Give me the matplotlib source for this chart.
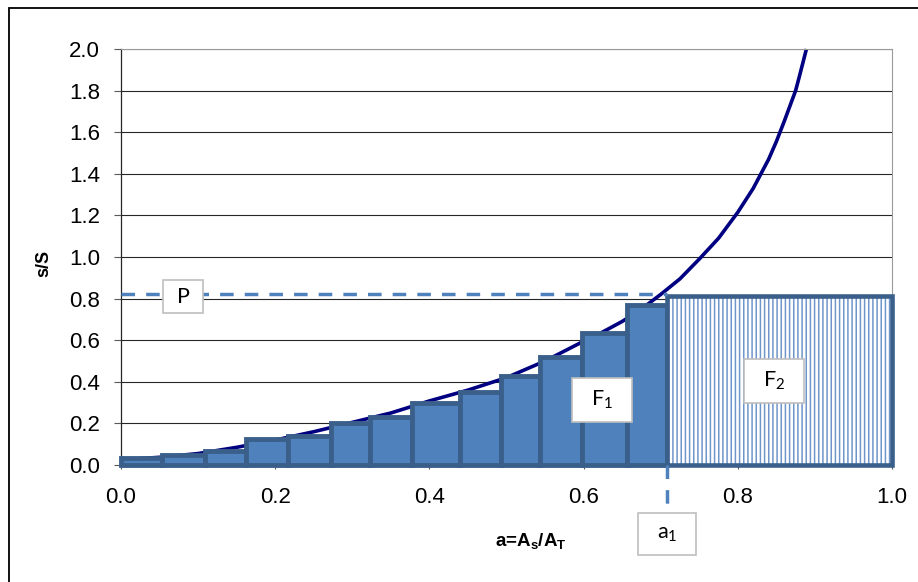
import matplotlib
matplotlib.use("Agg")
import matplotlib.pyplot as plt
from matplotlib.patches import Rectangle
import numpy as np

# curve s/S over a = As/AT
curve_a = [0.0, 0.05, 0.10, 0.15, 0.20, 0.25, 0.30, 0.35, 0.40, 0.45, 0.50,
           0.55, 0.60, 0.625, 0.65, 0.675, 0.70, 0.725, 0.75, 0.775, 0.80,
           0.82, 0.84, 0.85, 0.86, 0.865, 0.875, 0.88, 0.889]
curve_s = [0.025, 0.037, 0.055, 0.085, 0.12, 0.16, 0.205, 0.25, 0.308,
           0.36, 0.42, 0.50, 0.595, 0.64, 0.69, 0.75, 0.82, 0.895, 0.99,
           1.09, 1.215, 1.33, 1.47, 1.555, 1.65, 1.70, 1.80, 1.87, 2.0]

# staircase of bars below the curve (F1)
bar_edges = [0.0, 0.0537, 0.1088, 0.1626, 0.2169, 0.2720, 0.3225, 0.3776,
             0.4400, 0.4928, 0.5431, 0.5983, 0.6559, 0.7087]
bar_heights = [0.035, 0.05, 0.065, 0.124, 0.14, 0.20, 0.233, 0.30, 0.35,
               0.43, 0.52, 0.635, 0.77]

a1 = 0.7087       # where P meets the curve
p_level = 0.822   # dashed level P
f2_height = 0.811  # hatched block F2 from a1 to 1

x_ticks = [0.0, 0.2, 0.4, 0.6, 0.8, 1.0]
y_ticks = [0.0, 0.2, 0.4, 0.6, 0.8, 1.0, 1.2, 1.4, 1.6, 1.8, 2.0]

plt.rcParams['font.family'] = ['Liberation Sans', 'DejaVu Sans']
plt.rcParams['hatch.linewidth'] = 1.1

fill_blue = '#4F81BD'
edge_blue = '#3A5F8B'

fig = plt.figure(figsize=(9.18, 5.82), dpi=100)
ax = fig.add_axes([121/918, 1-465/582, 771/918, 416/582])

# grid
for y in y_ticks[1:]:
    ax.axhline(y, color='#262626', lw=0.8, zorder=1)

# curve (behind the bars)
ax.plot(curve_a, curve_s, color='#000080', lw=2.6, zorder=2, clip_on=False,
        solid_capstyle='butt', solid_joinstyle='round')

# bars F1
lefts = bar_edges[:-1]
widths = np.diff(bar_edges)
ax.bar(lefts, bar_heights, width=widths, align='edge', color=fill_blue,
       edgecolor=edge_blue, linewidth=3.5, zorder=3, clip_on=False)

# hatched block F2: hatch layer, then the frame
ax.bar(a1, f2_height, width=1-a1, align='edge', color='white',
       edgecolor='#6F96CB', linewidth=0, hatch='||||', zorder=3)
ax.bar(a1, f2_height, width=1-a1, align='edge', fill=False,
       edgecolor=edge_blue, linewidth=3.3, zorder=3, clip_on=False)

# dashed guide lines
ax.plot([0, a1], [p_level, p_level], color=fill_blue, lw=2.5,
        dashes=(3.9, 3.2), zorder=4, clip_on=False)
ax.plot([a1, a1], [0, -0.226], color=fill_blue, lw=2.5,
        dashes=(3.9, 3.2), zorder=4, clip_on=False)


def label_box(x, y, w, h, txt):
    ax.add_patch(Rectangle((x - w/2, y - h/2), w, h, facecolor='white',
                           edgecolor='#BFBFBF', lw=1.2, zorder=5,
                           clip_on=False))
    ax.text(x, y, txt, ha='center', va='center', fontsize=15.5,
            family=['Lato', 'DejaVu Sans'], zorder=6, clip_on=False)


label_box(0.0804, 0.810, 0.052, 0.159, 'P')
label_box(0.624, 0.3125, 0.078, 0.212, r'F$_\mathregular{1}$')
label_box(0.847, 0.404, 0.078, 0.212, r'F$_\mathregular{2}$')
label_box(a1, -0.332, 0.075, 0.202, r'a$_\mathregular{1}$')

ax.set_xlim(0, 1)
ax.set_ylim(0, 2)
ax.set_xticks(x_ticks)
ax.set_yticks(y_ticks)
ax.set_xticklabels([f'{v:.1f}' for v in x_ticks])
ax.set_yticklabels([f'{v:.1f}' for v in y_ticks])
ax.tick_params(axis='y', direction='out', length=5, width=0.8,
               color='#595959', pad=10, labelsize=16)
ax.tick_params(axis='x', direction='out', length=3, width=0.8,
               color='#595959', pad=12.5, labelsize=16)

for side in ['left', 'bottom']:
    ax.spines[side].set_color('#262626')
    ax.spines[side].set_linewidth(0.9)
for side in ['top', 'right']:
    ax.spines[side].set_color('#9a9a9a')
    ax.spines[side].set_linewidth(0.8)

fig.text(44/918, 1-263/582, 's/S', rotation=90, ha='center', va='center',
         fontsize=13, fontweight='bold')
fig.text(531/918, 1-542/582, r'a=A$_\mathregular{s}$/A$_\mathregular{T}$',
         ha='center', va='center', fontsize=13.5, fontweight='bold')

# outer frame of the chart
fig.patches.append(Rectangle((9/918, -0.2), 1.2, 1-8/582+0.2, fill=False,
                             edgecolor='black', lw=1.3,
                             transform=fig.transFigure, figure=fig))

fig.savefig('out.png', dpi=100)
